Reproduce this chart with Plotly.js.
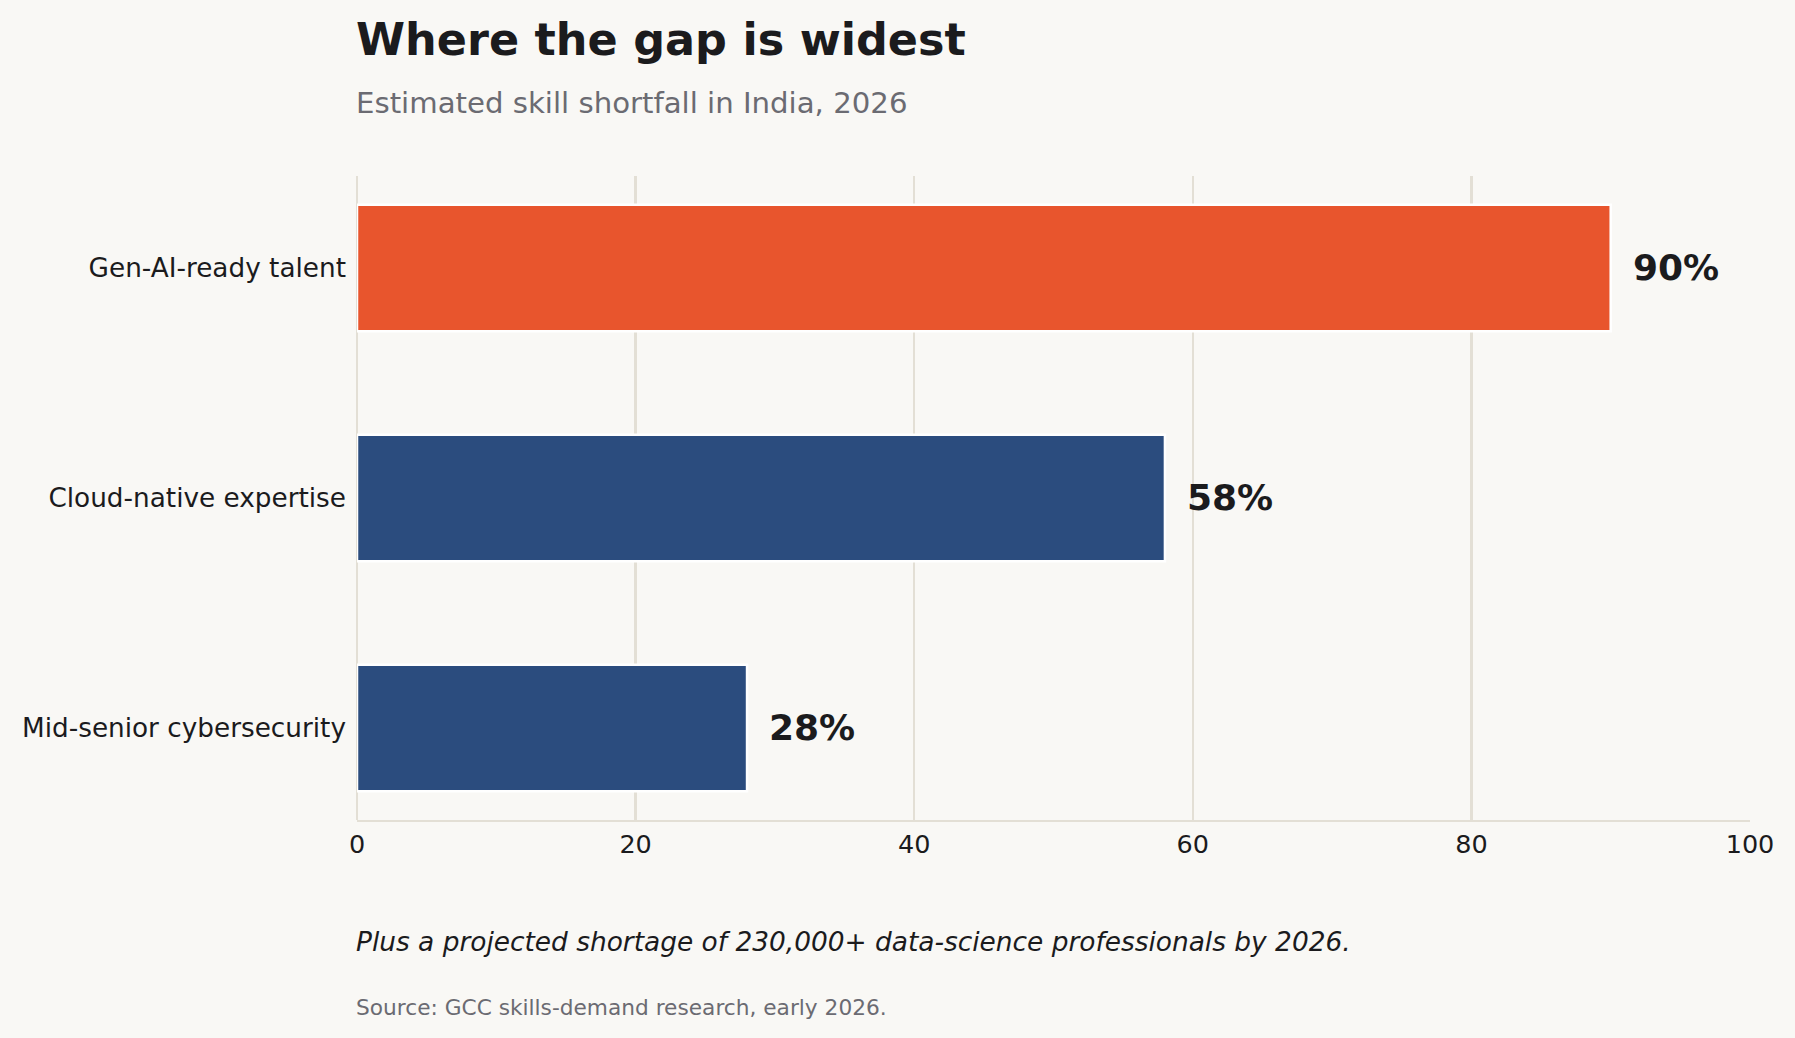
<!DOCTYPE html>
<html>
<head>
<meta charset="utf-8">
<script src="https://cdn.plot.ly/plotly-3.0.1.min.js"></script>
<style>
  html, body { margin: 0; padding: 0; background: #f9f8f5; }
  #chart { width: 1795px; height: 1038px; }
</style>
</head>
<body>
<div id="chart"></div>
<script>
// Skill-gap categories and shortfall shares (%)
const categories = ["Gen-AI-ready talent", "Cloud-native expertise", "Mid-senior cybersecurity"];
const shortfall = [90, 58, 28];
const barColors = ["#e8552d", "#2b4c7e", "#2b4c7e"];
const xTicks = [0, 20, 40, 60, 80, 100];

const titleText = "Where the gap is widest";
const subtitleText = "Estimated skill shortfall in India, 2026";
const noteText = "Plus a projected shortage of 230,000+ data-science professionals by 2026.";
const sourceText = "Source: GCC skills-demand research, early 2026.";

const FONT = "DejaVu Sans, Verdana, sans-serif";
const INK = "#1b1b1d";
const GREY = "#6b6b72";
const GRID = "#e3dfd5";

const trace = {
  type: "bar",
  orientation: "h",
  y: categories,
  x: shortfall,
  width: 0.55,
  marker: { color: barColors, line: { color: "#ffffff", width: 2.5 } },
  hoverinfo: "skip"
};

// Value labels to the right of each bar
const valueLabels = categories.map((c, i) => ({
  x: shortfall[i], y: c, xref: "x", yref: "y",
  text: shortfall[i] + "%",
  xanchor: "left", yanchor: "middle", xshift: 20, yshift: 0.5,
  showarrow: false,
  font: { family: FONT, size: 36, color: INK, weight: "bold" }
}));

// Heading above the plot, note and source below it
const textNotes = [
  { text: "<b>" + titleText + "</b>", y: 1.212, size: 44.5, color: INK },
  { text: subtitleText, y: 1.113, size: 29.2, color: GREY },
  { text: "<i>" + noteText + "</i>", y: -0.188, size: 26.4, color: INK },
  { text: sourceText, y: -0.291, size: 21.7, color: GREY }
].map(t => ({
  x: 0, xref: "paper", y: t.y, yref: "paper",
  xanchor: "left", yanchor: "middle", xshift: -3.5, showarrow: false,
  text: t.text, font: { family: FONT, size: t.size, color: t.color }
}));

const layout = {
  width: 1795, height: 1038,
  paper_bgcolor: "#f9f8f5",
  plot_bgcolor: "#f9f8f5",
  margin: { l: 356.5, r: 45, t: 176, b: 218 },
  font: { family: FONT, color: INK },
  showlegend: false,
  xaxis: {
    range: [0, 100],
    tickvals: xTicks,
    ticktext: xTicks.map(String),
    showgrid: true, gridcolor: GRID, gridwidth: 2.2,
    zeroline: true, zerolinecolor: GRID, zerolinewidth: 2.2,
    showline: true, linecolor: GRID, linewidth: 2.2,
    ticks: "", ticklen: 0,
    tickfont: { family: FONT, size: 25.5, color: INK },
    fixedrange: true
  },
  yaxis: {
    type: "category",
    range: [2.4, -0.4],
    showgrid: false, zeroline: false, showline: false,
    ticks: "", ticklabelstandoff: 10,
    ticklabelshift: -4.5,
    tickfont: { family: FONT, size: 26.3, color: INK },
    fixedrange: true
  },
  annotations: valueLabels.concat(textNotes)
};

Plotly.newPlot("chart", [trace], layout, { displayModeBar: false, staticPlot: true });
</script>
</body>
</html>
